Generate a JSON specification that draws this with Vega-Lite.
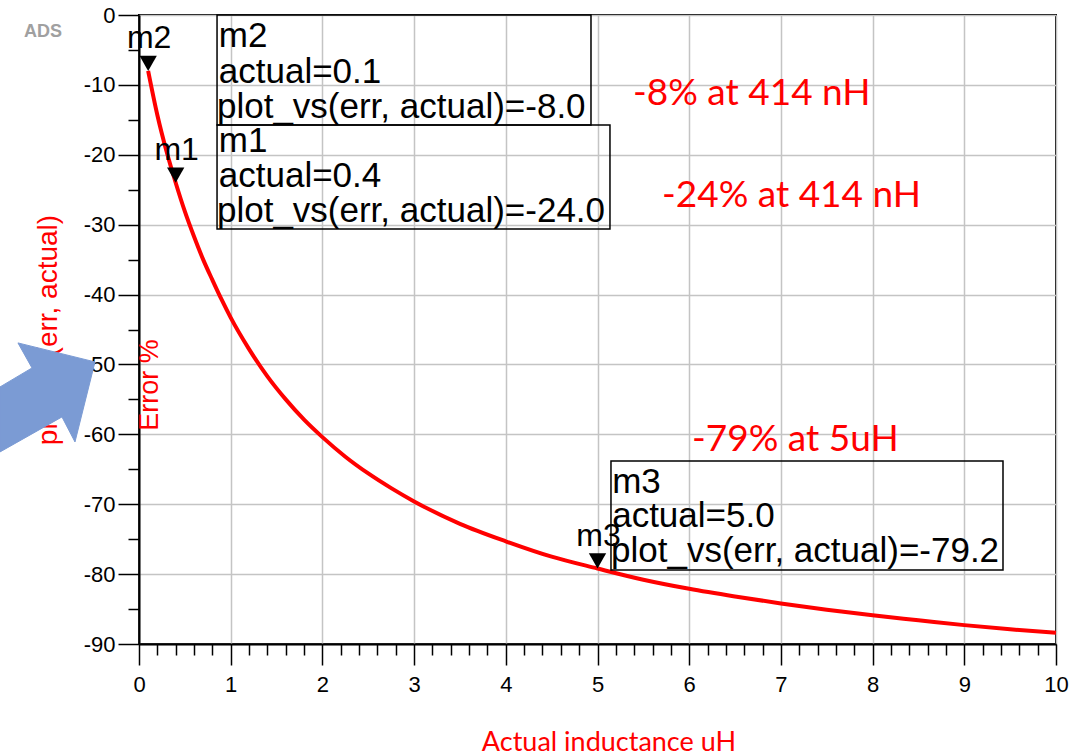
{
  "$schema": "https://vega.github.io/schema/vega-lite/v6.json",
  "width": 917,
  "height": 629,
  "autosize": {"type": "none"},
  "padding": {"left": 139, "top": 15, "right": 22, "bottom": 112},
  "background": "white",
  "config": {
    "view": {"stroke": "black", "strokeWidth": 2},
    "axis": {
      "domainColor": "black", "domainWidth": 2,
      "tickColor": "black", "tickWidth": 1.5,
      "labelFont": "Liberation Sans", "labelFontSize": 22, "labelColor": "black",
      "labelFlush": false, "labelOverlap": false, "labelBound": false,
      "gridWidth": 1.5,
      "titleFontWeight": "normal", "titleColor": "#ff0000"
    }
  },
  "datasets": {
    "curve": [
      {"actual": 0.1, "err": -8.0}, {"actual": 0.2, "err": -14.3}, {"actual": 0.3, "err": -19.5},
      {"actual": 0.4, "err": -24.0}, {"actual": 0.5, "err": -28.1}, {"actual": 0.6, "err": -31.7},
      {"actual": 0.7, "err": -35.0}, {"actual": 0.8, "err": -37.9}, {"actual": 0.9, "err": -40.7},
      {"actual": 1.0, "err": -43.3}, {"actual": 1.2, "err": -47.8}, {"actual": 1.4, "err": -51.7},
      {"actual": 1.6, "err": -55.0}, {"actual": 1.8, "err": -57.9}, {"actual": 2.0, "err": -60.4},
      {"actual": 2.25, "err": -63.2}, {"actual": 2.5, "err": -65.6}, {"actual": 2.75, "err": -67.7},
      {"actual": 3.0, "err": -69.6}, {"actual": 3.5, "err": -72.8}, {"actual": 4.0, "err": -75.3},
      {"actual": 4.5, "err": -77.5}, {"actual": 5.0, "err": -79.2}, {"actual": 5.5, "err": -80.8},
      {"actual": 6.0, "err": -82.1}, {"actual": 6.5, "err": -83.2}, {"actual": 7.0, "err": -84.2},
      {"actual": 7.5, "err": -85.1}, {"actual": 8.0, "err": -85.9}, {"actual": 8.5, "err": -86.6},
      {"actual": 9.0, "err": -87.3}, {"actual": 9.5, "err": -87.9}, {"actual": 10.0, "err": -88.4}
    ],
    "markers": [
      {"name": "m2", "actual": 0.1, "err": -8.0},
      {"name": "m1", "actual": 0.4, "err": -24.0},
      {"name": "m3", "actual": 5.0, "err": -79.2}
    ],
    "boxes": [
      {"name": "m2", "x1": 0.851, "x2": 4.929, "y1": 0, "y2": -15.74},
      {"name": "m1", "x1": 0.851, "x2": 5.136, "y1": -15.74, "y2": -30.62},
      {"name": "m3", "x1": 5.147, "x2": 9.422, "y1": -63.81, "y2": -79.41}
    ],
    "boxtext": [
      {"x": 0.87, "y": -4.58, "text": "m2"},
      {"x": 0.87, "y": -9.73, "text": "actual=0.1"},
      {"x": 0.85, "y": -14.74, "text": "plot_vs(err, actual)=-8.0"},
      {"x": 0.87, "y": -19.6, "text": "m1"},
      {"x": 0.87, "y": -24.61, "text": "actual=0.4"},
      {"x": 0.85, "y": -29.62, "text": "plot_vs(err, actual)=-24.0"},
      {"x": 5.16, "y": -68.39, "text": "m3"},
      {"x": 5.16, "y": -73.26, "text": "actual=5.0"},
      {"x": 5.147, "y": -78.27, "text": "plot_vs(err, actual)=-79.2"}
    ],
    "notes": [
      {"x": 5.387, "y": -12.88, "text": "-8% at 414 nH"},
      {"x": 5.703, "y": -27.47, "text": "-24% at 414 nH"},
      {"x": 6.031, "y": -62.38, "text": "-79% at 5uH"}
    ],
    "arrow": [
      {"i": 0, "x": -1.516, "y": -53.22},
      {"i": 1, "x": -1.167, "y": -50.5},
      {"i": 2, "x": -1.32, "y": -46.92},
      {"i": 3, "x": -0.48, "y": -49.64},
      {"i": 4, "x": -0.698, "y": -61.09},
      {"i": 5, "x": -0.84, "y": -57.51},
      {"i": 6, "x": -1.516, "y": -62.52},
      {"i": 7, "x": -1.516, "y": -53.22}
    ]
  },
  "layer": [
    {
      "data": {"name": "curve"},
      "mark": {"type": "line", "color": "#ff0000", "strokeWidth": 4, "interpolate": "monotone"},
      "encoding": {
        "x": {
          "field": "actual", "type": "quantitative",
          "scale": {"domain": [0, 10], "nice": false, "zero": false},
          "axis": {
            "title": "Actual inductance uH",
            "titleFont": "Lato", "titleFontSize": 27,
            "titleX": 469.5, "titleY": 106, "titleAlign": "center", "titleBaseline": "alphabetic",
            "tickCount": 200,
            "values": [0,0.2,0.4,0.6,0.8,1,1.2,1.4,1.6,1.8,2,2.2,2.4,2.6,2.8,3,3.2,3.4,3.6,3.8,4,4.2,4.4,4.6,4.8,5,5.2,5.4,5.6,5.8,6,6.2,6.4,6.6,6.8,7,7.2,7.4,7.6,7.8,8,8.2,8.4,8.6,8.8,9,9.2,9.4,9.6,9.8,10],
            "tickSize": {"condition": {"test": "datum.value % 1 === 0", "value": 21}, "value": 11},
            "labelExpr": "datum.value % 1 === 0 ? '' + datum.value : ''",
            "gridColor": {"condition": {"test": "datum.value % 1 !== 0", "value": "transparent"}, "value": "#c4c4c4"},
            "labelPadding": 9
          }
        },
        "y": {
          "field": "err", "type": "quantitative",
          "scale": {"domain": [-90, 0], "nice": false, "zero": false},
          "axis": {
            "title": "plot_vs(err, actual)",
            "titleFont": "Liberation Sans", "titleFontSize": 28,
            "titleAngle": 270, "titleX": -82.5, "titleY": 314.5, "titleAlign": "center", "titleBaseline": "alphabetic",
            "tickCount": 200,
            "values": [-90,-85,-80,-75,-70,-65,-60,-55,-50,-45,-40,-35,-30,-25,-20,-15,-10,-5,0],
            "tickSize": {"condition": {"test": "datum.value % 10 === 0", "value": 21}, "value": 11},
            "labelExpr": "datum.value % 10 === 0 ? '' + datum.value : ''",
            "gridColor": {"condition": {"test": "datum.value % 10 !== 0", "value": "transparent"}, "value": "#c4c4c4"},
            "labelPadding": 3
          }
        }
      }
    },
    {
      "data": {"name": "boxes"},
      "mark": {"type": "rect", "fill": null, "fillOpacity": 0, "stroke": "black", "strokeWidth": 1.5},
      "encoding": {
        "x": {"field": "x1", "type": "quantitative"},
        "x2": {"field": "x2"},
        "y": {"field": "y1", "type": "quantitative"},
        "y2": {"field": "y2"}
      }
    },
    {
      "data": {"name": "boxtext"},
      "mark": {"type": "text", "align": "left", "baseline": "alphabetic", "font": "Liberation Sans", "fontSize": 35, "color": "black"},
      "encoding": {
        "x": {"field": "x", "type": "quantitative"},
        "y": {"field": "y", "type": "quantitative"},
        "text": {"field": "text"}
      }
    },
    {
      "data": {"name": "markers"},
      "mark": {"type": "point", "shape": "M-1,-1.75L1,-1.75L0,0Z", "size": 300, "filled": true, "color": "black", "opacity": 1},
      "encoding": {
        "x": {"field": "actual", "type": "quantitative"},
        "y": {"field": "err", "type": "quantitative"}
      }
    },
    {
      "data": {"name": "markers"},
      "mark": {"type": "text", "align": "center", "baseline": "alphabetic", "dy": -23, "dx": 1, "font": "Liberation Sans", "fontSize": 32, "color": "black"},
      "encoding": {
        "x": {"field": "actual", "type": "quantitative"},
        "y": {"field": "err", "type": "quantitative"},
        "text": {"field": "name"}
      }
    },
    {
      "data": {"name": "notes"},
      "mark": {"type": "text", "align": "left", "baseline": "alphabetic", "font": "Lato", "fontSize": 37, "color": "#ff0000"},
      "encoding": {
        "x": {"field": "x", "type": "quantitative"},
        "y": {"field": "y", "type": "quantitative"},
        "text": {"field": "text"}
      }
    },
    {
      "data": {"values": [{"x": 0.202, "y": -52.94, "text": "Error %"}]},
      "mark": {"type": "text", "align": "center", "baseline": "alphabetic", "angle": 270, "font": "Liberation Sans", "fontSize": 27, "color": "#ff0000"},
      "encoding": {
        "x": {"field": "x", "type": "quantitative"},
        "y": {"field": "y", "type": "quantitative"},
        "text": {"field": "text"}
      }
    },
    {
      "data": {"values": [{"x": -1.047, "y": -2.5, "text": "ADS"}]},
      "mark": {"type": "text", "align": "center", "baseline": "middle", "font": "Liberation Sans", "fontWeight": "bold", "fontSize": 18, "color": "#a0a0a0"},
      "encoding": {
        "x": {"field": "x", "type": "quantitative"},
        "y": {"field": "y", "type": "quantitative"},
        "text": {"field": "text"}
      }
    },
    {
      "data": {"name": "arrow"},
      "mark": {"type": "line", "fill": "#7b9bd4", "stroke": "#7b9bd4", "strokeWidth": 1, "interpolate": "linear"},
      "encoding": {
        "x": {"field": "x", "type": "quantitative"},
        "y": {"field": "y", "type": "quantitative"},
        "order": {"field": "i", "type": "quantitative"}
      }
    }
  ]
}
